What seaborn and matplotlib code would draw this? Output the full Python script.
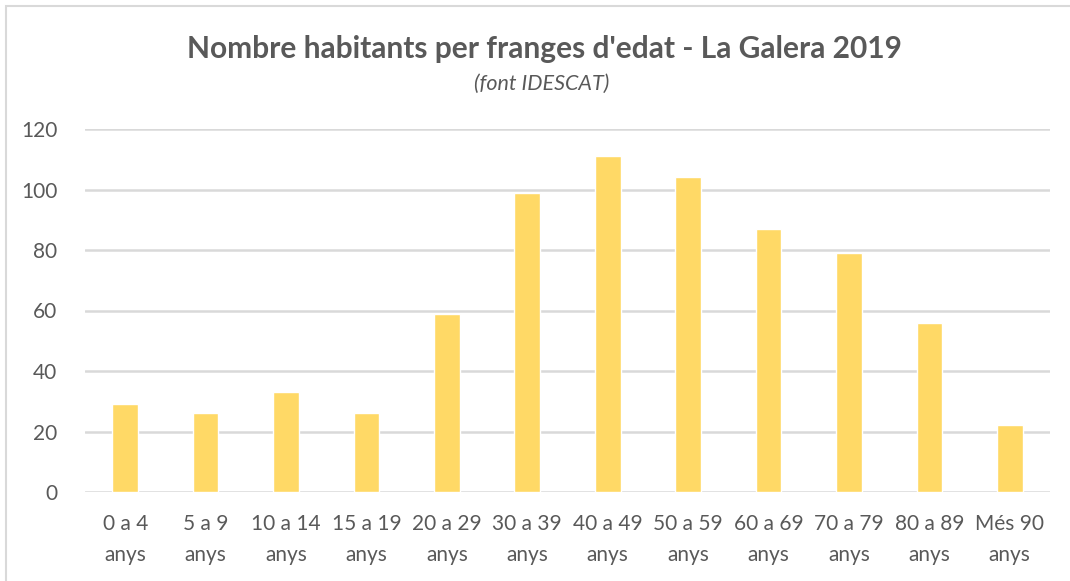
import matplotlib
matplotlib.use("Agg")
import matplotlib.pyplot as plt
import seaborn as sns
import pandas as pd
from matplotlib.patches import Rectangle

categories = ["0 a 4\nanys", "5 a 9\nanys", "10 a 14\nanys", "15 a 19\nanys",
              "20 a 29\nanys", "30 a 39\nanys", "40 a 49\nanys", "50 a 59\nanys",
              "60 a 69\nanys", "70 a 79\nanys", "80 a 89\nanys", "Més 90\nanys"]
values = [29, 26, 33, 26, 59, 99, 111, 104, 87, 79, 56, 22]
yticks = [0, 20, 40, 60, 80, 100, 120]
title = "Nombre habitants per franges d'edat - La Galera 2019"
subtitle = "(font IDESCAT)"

sns.set_theme(style="white")
plt.rcParams['font.family'] = ['Lato', 'DejaVu Sans']

text_color = "#595959"
df = pd.DataFrame({"cat": categories, "val": values})

fig = plt.figure(figsize=(10.7, 5.81), dpi=100)
ax = fig.add_axes([85/1070, 1-492/581, (1050-85)/1070, (492-129)/581])
sns.barplot(data=df, x="cat", y="val", color="#FFD966", saturation=1, width=0.32, ax=ax, zorder=3)
ax.set_ylim(0, 120)
ax.set_yticks(yticks)
ax.yaxis.grid(True, color="#D9D9D9", linewidth=1.8, zorder=0)
ax.set_axisbelow(True)
for s in ax.spines.values():
    s.set_visible(False)
ax.set_xlabel("")
ax.set_ylabel("")
ax.tick_params(axis="both", length=0, labelsize=15, colors=text_color)
ax.tick_params(axis="x", pad=16)
ax.tick_params(axis="y", pad=20)
for lbl in ax.get_xticklabels():
    lbl.set_linespacing(1.65)

fig.text(544/1070, 1-49/581, title, ha="center", va="center", fontsize=21.5, fontweight="bold", color=text_color)
fig.text(542/1070, 1-84/581, subtitle, ha="center", va="center", fontsize=15.5, style="italic", color=text_color)

fig.patches.append(Rectangle((6/1070, -0.1), 1.2, 1-6/581+0.1, transform=fig.transFigure,
                             fill=False, edgecolor="#D9D9D9", linewidth=1.5))

fig.savefig("out.png", dpi=100)
